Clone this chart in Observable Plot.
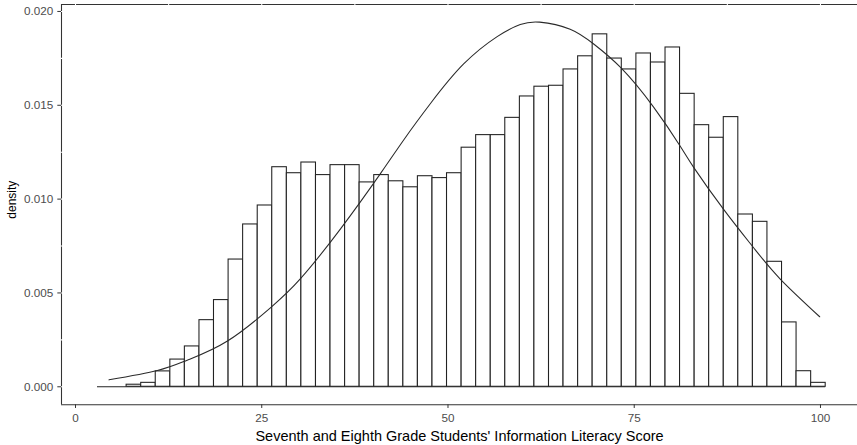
<!DOCTYPE html>
<html>
<head>
<meta charset="utf-8">
<script src="https://cdn.jsdelivr.net/npm/d3@7"></script>
<script src="https://cdn.jsdelivr.net/npm/@observablehq/plot@0.6"></script>
<style>
  html, body { margin: 0; padding: 0; background: #fff; }
  #chart { width: 857px; height: 445px; overflow: hidden; }
  g[aria-label="x-axis tick label"], g[aria-label="y-axis tick label"] { fill: #4d4d4d; }
  g[aria-label="x-axis tick"], g[aria-label="y-axis tick"] { stroke: #333; }
</style>
</head>
<body>
<div id="chart"></div>
<script>
// Histogram bin edges (score) and the density of each bin
const binEdges = [
  2.95, 4.91, 6.86, 8.82, 10.77, 12.73, 14.68, 16.64, 18.59, 20.55,
  22.50, 24.46, 26.41, 28.37, 30.32, 32.28, 34.23, 36.19, 38.14, 40.10,
  42.05, 44.01, 45.96, 47.92, 49.87, 51.83, 53.78, 55.74, 57.69, 59.65,
  61.60, 63.56, 65.51, 67.47, 69.42, 71.38, 73.33, 75.29, 77.24, 79.20,
  81.15, 83.11, 85.06, 87.02, 88.97, 90.93, 92.88, 94.84, 96.79, 98.75,
  100.70
];
const binDensity = [
  0, 0, 0.00011, 0.00021, 0.00082, 0.00145, 0.00215, 0.00355, 0.00462, 0.00678,
  0.00865, 0.00966, 0.01170, 0.01138, 0.01195, 0.01128, 0.01181, 0.01181, 0.01089, 0.01128,
  0.01095, 0.01063, 0.01122, 0.01112, 0.01138, 0.01274, 0.01341, 0.01341, 0.01433, 0.01547,
  0.01599, 0.01604, 0.01691, 0.01761, 0.01878, 0.01749, 0.01691, 0.01776, 0.01728, 0.01808,
  0.01561, 0.01394, 0.01327, 0.01437, 0.00918, 0.00879, 0.00666, 0.00343, 0.00083, 0.00021
];

// Overlaid density curve
const curveScore = [
  4.5, 11.0, 15.0, 20.4, 26.2, 30.2, 35.6, 41.0, 44.1, 47.7,
  52.1, 56.6, 59.7, 62.3, 66.4, 69.6, 73.2, 77.6, 81.2, 83.0,
  87.0, 91.0, 94.6, 99.9
];
const curveDensity = [
  0.00037, 0.00087, 0.00142, 0.00244, 0.00422, 0.00576, 0.00843, 0.01140, 0.01318, 0.01512,
  0.01720, 0.01866, 0.01930, 0.01943, 0.01905, 0.01825, 0.01700, 0.01490, 0.01280, 0.01168,
  0.00945, 0.00742, 0.00574, 0.00373
];

// Axes
const xTicks = [0, 25, 50, 75, 100];
const xGrid = [0, 12.5, 25, 37.5, 50, 62.5, 75, 87.5, 100];
const yTicks = [0, 0.005, 0.010, 0.015, 0.020];
const yGrid = [0, 0.0025, 0.005, 0.0075, 0.010, 0.0125, 0.015, 0.0175, 0.020];
const xDomain = [-1.88, 104.97];
const yDomain = [-0.00096, 0.02037];
const xTitle = "Seventh and Eighth Grade Students' Information Literacy Score";
const yTitle = "density";

const bins = binDensity.map((d, i) => ({x1: binEdges[i], x2: binEdges[i + 1], density: d}));
const curve = curveScore.map((s, i) => ({score: s, density: curveDensity[i]}));

const ink = "#333";

const chart = Plot.plot({
  width: 857,
  height: 445,
  marginTop: 4,
  marginRight: 0,
  marginBottom: 40.7,
  marginLeft: 61,
  style: {
    fontFamily: "'Liberation Sans', Arial, sans-serif",
    fontSize: "11.7px",
    background: "#fff",
    color: "#000"
  },
  x: {domain: xDomain},
  y: {domain: yDomain},
  marks: [
    // panel outline (top and left)
    Plot.ruleY([yDomain[1]], {stroke: ink, strokeWidth: 1.07}),
    Plot.ruleX([xDomain[0]], {stroke: ink, strokeWidth: 1.07}),
    // white grid lines
    Plot.ruleX(xGrid, {stroke: "#fff", strokeWidth: 1.07}),
    Plot.ruleY(yGrid, {stroke: "#fff", strokeWidth: 1.07}),
    // histogram
    Plot.ruleY([0], {x1: binEdges[0], x2: binEdges[binEdges.length - 1], stroke: "#222", strokeWidth: 1.07}),
    Plot.rectY(bins, {x1: "x1", x2: "x2", y: "density", fill: "#fff", stroke: "#222", strokeWidth: 1.07, inset: 0}),
    // density curve
    Plot.line(curve, {x: "score", y: "density", curve: "natural", stroke: "#2a2a2a", strokeWidth: 1.07}),
    // bottom axis line
    Plot.ruleY([yDomain[0]], {stroke: ink, strokeWidth: 1.07}),
    Plot.axisX({ticks: xTicks, tickSize: 3.7, tickPadding: 5.5, label: null, fontSize: 11.7}),
    Plot.axisY({ticks: yTicks, tickSize: 3.7, tickPadding: 4.5, label: null, tickFormat: d3.format(".3f"), fontSize: 11.7}),
    // axis titles
    Plot.text([xTitle], {text: d => d, frameAnchor: "bottom", dy: 36.2, textAnchor: "middle", lineAnchor: "bottom", fontSize: 14.5, fill: "#000"}),
    Plot.text([yTitle], {text: d => d, frameAnchor: "left", rotate: -90, dx: -46, dy: -5, textAnchor: "middle", lineAnchor: "bottom", fontSize: 12, fill: "#000"})
  ]
});

document.getElementById("chart").appendChild(chart);
</script>
</body>
</html>
